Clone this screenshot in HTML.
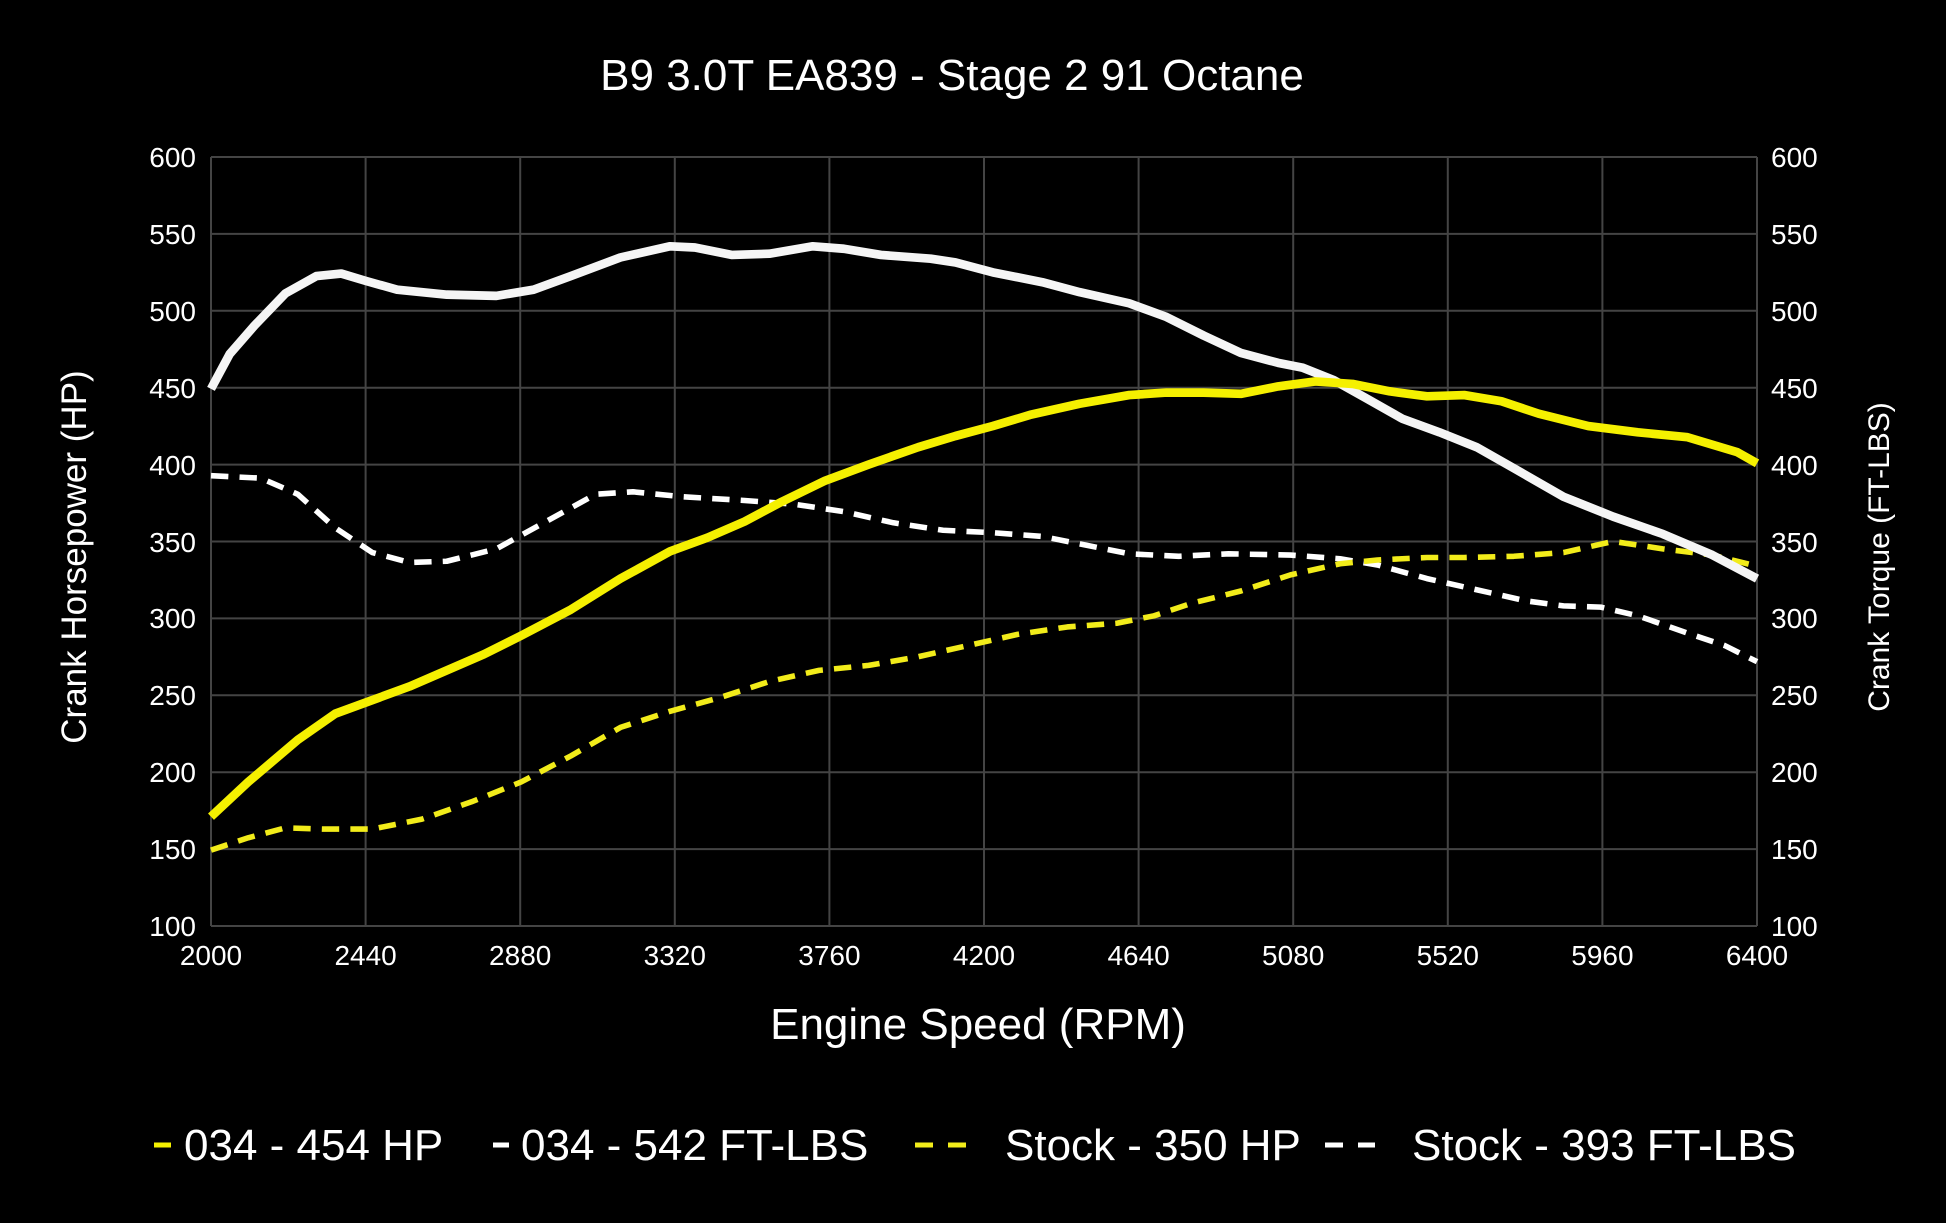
<!DOCTYPE html>
<html><head><meta charset="utf-8"><style>
html,body{margin:0;padding:0;background:#000;}
svg{display:block;font-family:"Liberation Sans",Arial,sans-serif;}
</style></head><body>
<svg width="1946" height="1223" viewBox="0 0 1946 1223" xmlns="http://www.w3.org/2000/svg">
<rect width="1946" height="1223" fill="#000"/>
<text x="952" y="90" fill="#fff" font-size="44" text-anchor="middle">B9 3.0T EA839 - Stage 2 91 Octane</text>
<g stroke="#444" stroke-width="2" fill="none">
<line x1="211" y1="157" x2="1757" y2="157"/><line x1="211" y1="233.9" x2="1757" y2="233.9"/><line x1="211" y1="310.8" x2="1757" y2="310.8"/><line x1="211" y1="387.7" x2="1757" y2="387.7"/><line x1="211" y1="464.6" x2="1757" y2="464.6"/><line x1="211" y1="541.5" x2="1757" y2="541.5"/><line x1="211" y1="618.4" x2="1757" y2="618.4"/><line x1="211" y1="695.3" x2="1757" y2="695.3"/><line x1="211" y1="772.2" x2="1757" y2="772.2"/><line x1="211" y1="849.1" x2="1757" y2="849.1"/><line x1="211" y1="926" x2="1757" y2="926"/>
<line x1="211" y1="157" x2="211" y2="926"/><line x1="365.6" y1="157" x2="365.6" y2="926"/><line x1="520.2" y1="157" x2="520.2" y2="926"/><line x1="674.8" y1="157" x2="674.8" y2="926"/><line x1="829.4" y1="157" x2="829.4" y2="926"/><line x1="984" y1="157" x2="984" y2="926"/><line x1="1138.6" y1="157" x2="1138.6" y2="926"/><line x1="1293.2" y1="157" x2="1293.2" y2="926"/><line x1="1447.8" y1="157" x2="1447.8" y2="926"/><line x1="1602.4" y1="157" x2="1602.4" y2="926"/><line x1="1757" y1="157" x2="1757" y2="926"/>
</g>
<g fill="#fff" font-size="28" text-anchor="end">
<text x="196" y="167">600</text><text x="196" y="244">550</text><text x="196" y="321">500</text><text x="196" y="398">450</text><text x="196" y="475">400</text><text x="196" y="552">350</text><text x="196" y="628">300</text><text x="196" y="705">250</text><text x="196" y="782">200</text><text x="196" y="859">150</text><text x="196" y="936">100</text>
</g>
<g fill="#fff" font-size="28" text-anchor="start">
<text x="1771" y="167">600</text><text x="1771" y="244">550</text><text x="1771" y="321">500</text><text x="1771" y="398">450</text><text x="1771" y="475">400</text><text x="1771" y="552">350</text><text x="1771" y="628">300</text><text x="1771" y="705">250</text><text x="1771" y="782">200</text><text x="1771" y="859">150</text><text x="1771" y="936">100</text>
</g>
<g fill="#fff" font-size="28" text-anchor="middle">
<text x="211" y="965">2000</text><text x="365.6" y="965">2440</text><text x="520.2" y="965">2880</text><text x="674.8" y="965">3320</text><text x="829.4" y="965">3760</text><text x="984" y="965">4200</text><text x="1138.6" y="965">4640</text><text x="1293.2" y="965">5080</text><text x="1447.8" y="965">5520</text><text x="1602.4" y="965">5960</text><text x="1757" y="965">6400</text>
</g>
<text x="978" y="1039" fill="#fff" font-size="44" text-anchor="middle">Engine Speed (RPM)</text>
<text transform="translate(86,557) rotate(-90)" fill="#fff" font-size="35" text-anchor="middle">Crank Horsepower (HP)</text>
<text transform="translate(1889,557) rotate(-90)" fill="#fff" font-size="30" text-anchor="middle">Crank Torque (FT-LBS)</text>
<g transform="translate(211,157) scale(1.2408,1.240) translate(-170,-126)" fill="none" stroke-linecap="butt" stroke-linejoin="round">
<polyline stroke="#fff" stroke-width="4.5" stroke-dasharray="14 9" points="170,383 210,385 240,398 270,425 300,445 330,453 360,452 400,442 440,420 480,398 510,396 550,400 600,403 640,406 680,412 720,421 760,427 800,429 840,432 870,438 910,446 950,448 990,446 1040,447 1080,450 1110,455 1150,466 1190,475 1230,484 1260,488 1290,489 1320,496 1360,510 1390,520 1416,533"/>
<polyline stroke="#f2ec1a" stroke-width="4.5" stroke-dasharray="14 9" points="170,685 200,675 230,667 260,668 300,668 340,660 380,646 420,630 460,609 500,586 540,573 580,562 620,549 660,540 700,536 740,529 780,520 820,511 860,505 900,502 930,496 960,486 1000,476 1040,463 1080,454 1110,451 1150,449 1180,449 1220,448 1260,445 1300,436 1340,442 1380,447 1416,456"/>
<polyline stroke="#f5f5f5" stroke-width="7" points="170,313 185,285 205,262 230,236 255,222 275,220 295,226 320,233 360,237 400,238 430,233 460,222 500,207 540,198 560,199 590,205 620,204 655,198 680,200 710,205 750,208 770,211 800,219 840,227 870,235 910,244 940,255 970,270 1000,284 1030,292 1050,296 1075,306 1100,320 1130,337 1160,348 1190,360 1220,377 1260,400 1300,416 1340,430 1380,447 1416,466"/>
<polyline stroke="#f5f000" stroke-width="7" points="170,658 200,630 240,596 270,575 300,564 330,553 360,540 390,527 420,512 460,491 500,466 540,444 570,433 600,420 630,404 665,387 700,374 740,360 770,351 800,343 830,334 870,325 910,318 940,316 970,316 1000,317 1030,311 1060,307 1090,309 1120,315 1150,319 1180,318 1210,323 1240,333 1280,343 1320,348 1360,352 1400,364 1416,373"/>
</g>
<g font-size="44" fill="#fff">
<line x1="154" y1="1145" x2="171" y2="1145" stroke="#f5f000" stroke-width="5"/>
<text x="184" y="1160">034 - 454 HP</text>
<line x1="493" y1="1145" x2="509" y2="1145" stroke="#fff" stroke-width="5"/>
<text x="521" y="1160">034 - 542 FT-LBS</text>
<line x1="915" y1="1145" x2="966" y2="1145" stroke="#f2ec1a" stroke-width="5" stroke-dasharray="18 15"/>
<text x="1005" y="1160">Stock - 350 HP</text>
<line x1="1325" y1="1145" x2="1375" y2="1145" stroke="#fff" stroke-width="5" stroke-dasharray="18 15"/>
<text x="1412" y="1160">Stock - 393 FT-LBS</text>
</g>
</svg>
</body></html>
